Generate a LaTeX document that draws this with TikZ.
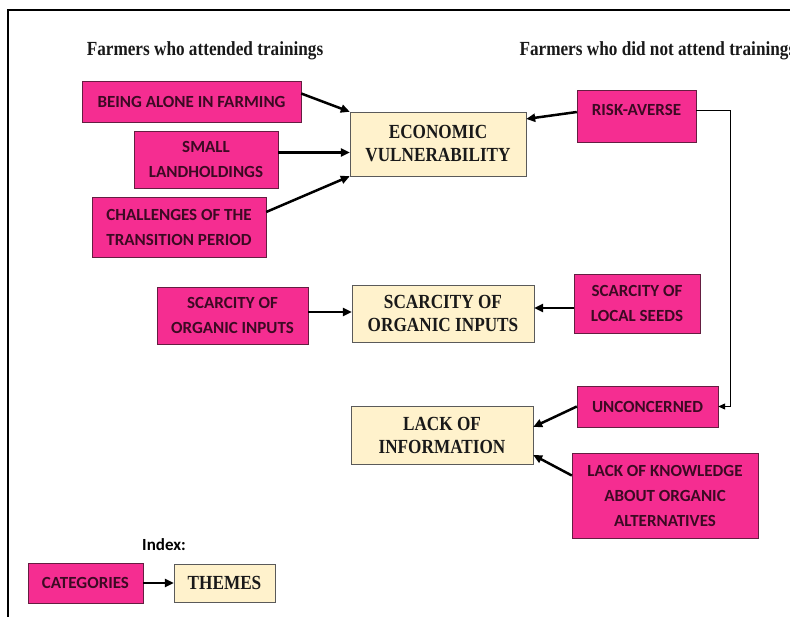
\documentclass[tikz,border=0pt]{standalone}
\usepackage{fontspec}
\usepackage{xcolor}
\usepackage{tikz}
\usetikzlibrary{arrows.meta, positioning, calc}
\setmainfont{Liberation Serif}
\newfontfamily\catfont{Carlito}
\newfontfamily\themefont{Liberation Serif}[FakeStretch=0.86]
\definecolor{catpink}{RGB}{245, 45, 145}
\definecolor{catedge}{RGB}{100, 30, 65}
\definecolor{cattext}{RGB}{60, 10, 35}
\definecolor{themecream}{RGB}{255, 242, 204}
\definecolor{themeedge}{RGB}{90, 90, 90}

\begin{document}
\begin{tikzpicture}[x=1pt, y=-1pt,
    catbox/.style={draw=catedge, fill=catpink, text=cattext, align=center, inner sep=0pt,
        font=\catfont\bfseries\fontsize{17}{25}\selectfont},
    themebox/.style={draw=themeedge, fill=themecream, text=black!90, align=center, inner sep=0pt,
        font=\themefont\bfseries\fontsize{20}{23}\selectfont},
    heading/.style={font=\themefont\bfseries\fontsize{20}{23}\selectfont, text=black!90},
    link/.style={line width=2.5pt, -{Triangle[length=9pt, width=8pt]}}]
    \useasboundingbox (0,0) rectangle (790,617);

    % frame
    \draw[line width=2pt] (8,617) -- (8,10) -- (790,10);

    \node[heading, anchor=base] (left) at (205,56) {Farmers who attended trainings};
    \node[heading, anchor=base west] (right) at (516,56) {Farmers who did not attend trainings};

    % themes
    \node[themebox, minimum width=176, minimum height=64] (econ) at (438,144) {ECONOMIC\\VULNERABILITY};
    \node[themebox, minimum width=182, minimum height=57] (inputs) at (443,313.5) {SCARCITY OF\\ORGANIC INPUTS};
    \node[themebox, minimum width=182, minimum height=58] (info) at (442,435) {LACK OF\\INFORMATION};

    % categories
    \node[catbox, minimum width=219, minimum height=41] (alone) at (191.5,101.5) {BEING ALONE IN FARMING};
    \node[catbox, minimum width=144, minimum height=57] (small) at (206,159.5) {SMALL\\LANDHOLDINGS};
    \node[catbox, minimum width=174, minimum height=60] (transition) at (179,227) {CHALLENGES OF THE\\TRANSITION PERIOD};
    \node[catbox, minimum width=119, minimum height=52, text depth=12pt] (risk) at (636.5,116) {RISK-AVERSE};
    \node[catbox, minimum width=151, minimum height=57] (organic) at (232.5,315.5) {SCARCITY OF\\ORGANIC INPUTS};
    \node[catbox, minimum width=126, minimum height=59] (seeds) at (637,303.5) {SCARCITY OF\\LOCAL SEEDS};
    \node[catbox, minimum width=141, minimum height=41] (unconcerned) at (647.5,406.5) {UNCONCERNED};
    \node[catbox, minimum width=186, minimum height=85] (knowledge) at (665,495.5) {LACK OF KNOWLEDGE\\ABOUT ORGANIC\\ALTERNATIVES};

    % index
    \node[font=\catfont\bfseries\fontsize{17}{20}\selectfont] (index) at (164,545) {Index:};
    \node[catbox, minimum width=115, minimum height=40] (categories) at (85.5,583) {CATEGORIES};
    \node[themebox, minimum width=101, minimum height=38] (themes) at (224.5,583) {THEMES};

    % links
    \draw[link] ([yshift=8pt]alone.east) -- (econ.north west);
    \draw[link] ([yshift=7pt]small.east) -- ([yshift=7pt]small.east -| econ.west);
    \draw[link] ([yshift=15pt]transition.east) -- (econ.south west);
    \draw[link] ([yshift=4pt]risk.west) -- ([yshift=25pt]econ.east);
    \draw[link] ([yshift=3.5pt]organic.east) -- ([yshift=3.5pt]organic.east -| inputs.west);
    \draw[link] ([yshift=-4.5pt]seeds.west) -- ([yshift=-4.5pt]seeds.west -| inputs.east);
    \draw[link] (unconcerned.west) -- ([yshift=8pt]info.east);
    \draw[link] ([yshift=20pt]knowledge.west) -- ([yshift=-20pt]info.east);
    \draw[link] (categories) -- (themes);

    \coordinate (turn) at (730,111);
    \draw[line width=1pt, -{Triangle[length=7pt, width=6pt]}] ([yshift=5pt]risk.east) -- (turn)
        -- (turn |- unconcerned.east) -- (unconcerned.east);
\end{tikzpicture}
\end{document}
